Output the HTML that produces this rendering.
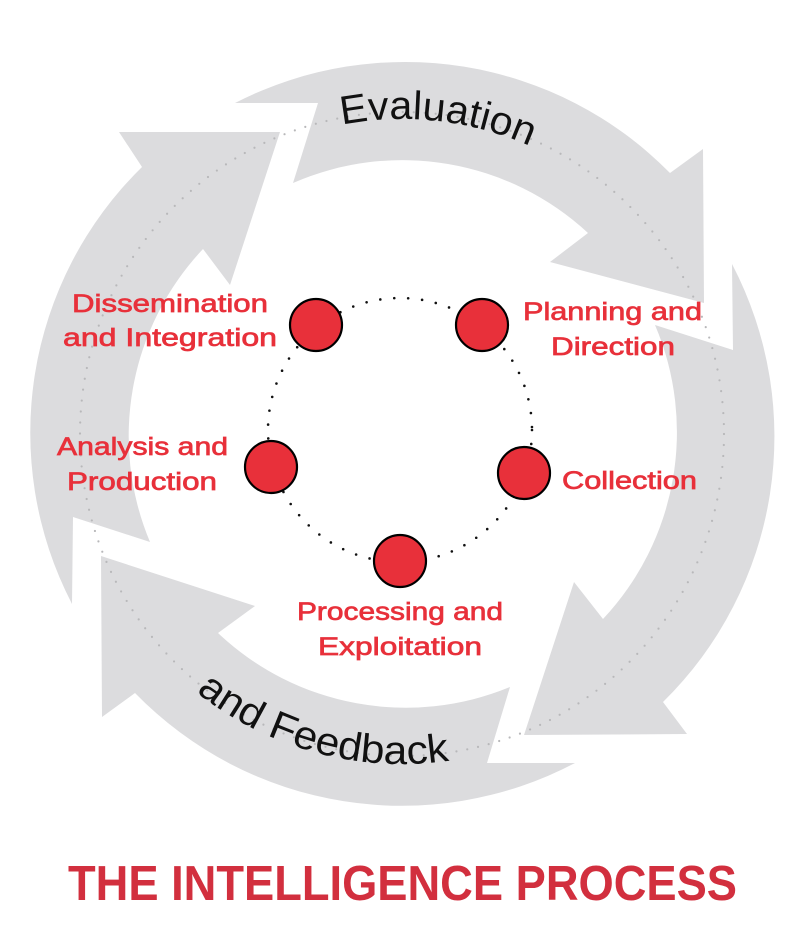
<!DOCTYPE html>
<html><head><meta charset="utf-8"><style>
html,body{margin:0;padding:0;background:#fff;}
svg{display:block;}
</style></head><body>
<svg width="800" height="930" viewBox="0 0 800 930" xmlns="http://www.w3.org/2000/svg">
<rect width="800" height="930" fill="#fff"/>
<g fill="#dcdcde">
<path d="M318,103 L235,103 A372,372 0 0 1 670,173 L703,149 L704,303 L550,262 L588,233 A273,273 0 0 0 293,183 Z"/>
<path d="M733,350 L732,264 A372,372 0 0 1 663,702 L687,734 L524,735 L574,582 L603,619 A273,273 0 0 0 655,325 Z"/>
<path d="M510,687 L487,763 L575,763 A372,372 0 0 1 135,693 L102,717 L101,556 L255,606 L218,633 A273,273 0 0 0 510,687 Z"/>
<path d="M150,542 L73,517 L72,604 A372,372 0 0 1 142,167 L119,132 L280,132 L230,285 L203,249 A273,273 0 0 0 150,542 Z"/>
</g>
<circle cx="402" cy="434" r="322" fill="none" stroke="#b8b8ba" stroke-width="2.2" stroke-linecap="round" stroke-dasharray="0 11"/>
<defs>
<path id="evp" d="M320.5,129.7 A315,315 0 0 1 559.5,161.2"/>
<path id="fbp" d="M189.9,686.8 A330,330 0 0 0 487.4,752.8"/>
</defs>
<text font-family="Liberation Sans, sans-serif" font-size="40" fill="#111"><textPath href="#evp" startOffset="22" textLength="192" lengthAdjust="spacingAndGlyphs">Evaluation</textPath></text>
<text font-family="Liberation Sans, sans-serif" font-size="40" fill="#111"><textPath href="#fbp" startOffset="8" textLength="270" lengthAdjust="spacingAndGlyphs">and Feedback</textPath></text>
<circle cx="400" cy="430" r="132" fill="none" stroke="#111" stroke-width="2.6" stroke-linecap="round" stroke-dasharray="0 14"/>
<g fill="#e8303a" stroke="#000" stroke-width="2.2">
<circle cx="316" cy="325" r="26"/>
<circle cx="482" cy="325" r="26"/>
<circle cx="524" cy="473" r="26"/>
<circle cx="400" cy="561" r="26"/>
<circle cx="271" cy="467" r="26"/>
</g>
<g font-family="Liberation Sans, sans-serif" font-size="25" fill="#e8303a" stroke="#e8303a" stroke-width="0.7">
<text x="72" y="312" textLength="196" lengthAdjust="spacingAndGlyphs">Dissemination</text>
<text x="63" y="346" textLength="214" lengthAdjust="spacingAndGlyphs">and Integration</text>
<text x="57" y="455" textLength="171" lengthAdjust="spacingAndGlyphs">Analysis and</text>
<text x="67" y="490" textLength="150" lengthAdjust="spacingAndGlyphs">Production</text>
<text x="523" y="320" textLength="179" lengthAdjust="spacingAndGlyphs">Planning and</text>
<text x="551" y="355" textLength="124" lengthAdjust="spacingAndGlyphs">Direction</text>
<text x="562" y="489" textLength="135" lengthAdjust="spacingAndGlyphs">Collection</text>
<text x="297" y="620" textLength="206" lengthAdjust="spacingAndGlyphs">Processing and</text>
<text x="318" y="655" textLength="164" lengthAdjust="spacingAndGlyphs">Exploitation</text>
</g>
<text x="68" y="900" font-family="Liberation Sans, sans-serif" font-weight="bold" font-size="49" fill="#d22f3e" textLength="669" lengthAdjust="spacingAndGlyphs">THE INTELLIGENCE PROCESS</text>
</svg>
</body></html>
